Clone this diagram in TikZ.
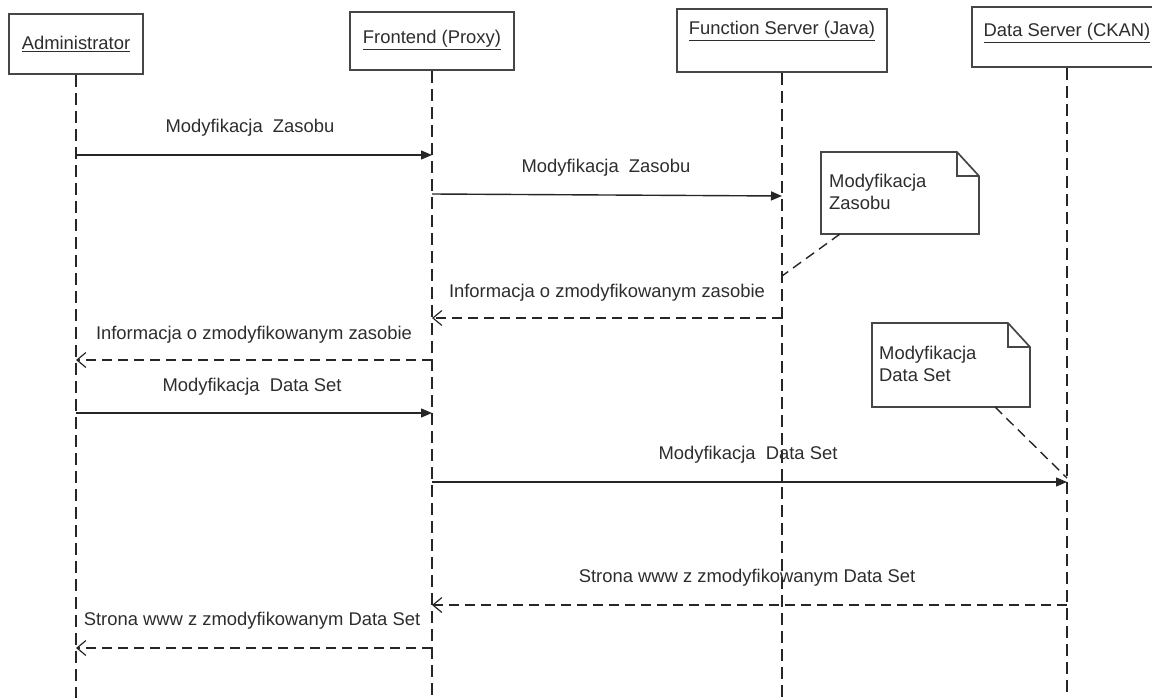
\documentclass[tikz,border=0pt]{standalone}
\usepackage{fontspec}
\setmainfont{Liberation Sans}
\usetikzlibrary{arrows.meta,calc}
\definecolor{ink}{RGB}{45,45,45}
\definecolor{frame}{RGB}{70,70,70}
\newcommand{\labelsize}{\fontsize{18.4}{22}\selectfont}
\tikzset{
  hdr/.style={draw=frame, line width=1.7pt, fill=white, inner sep=0pt},
  hdrtext/.style={font=\labelsize, text=ink, inner sep=0pt},
  lifeline/.style={draw=black!85, line width=1.4pt, dash pattern=on 12pt off 6pt},
  call/.style={draw=black!85, line width=1.4pt, -{Triangle[length=11pt,width=9pt]}},
  reply/.style={draw=black!85, line width=1.4pt, dash pattern=on 10pt off 6pt,
    -{Straight Barb[length=9pt,width=15pt,line width=1.2pt]}},
  msg/.style={font=\labelsize, text=ink, inner sep=0pt},
  notetext/.style={font=\fontsize{18.4}{22.5}\selectfont, text=ink, align=left, inner sep=0pt, anchor=west},
  notebox/.style={draw=frame, line width=1.7pt, fill=white},
  notelink/.style={draw=black!85, line width=1.4pt, dash pattern=on 10pt off 6pt},
}
\begin{document}
\begin{tikzpicture}[x=1pt,y=-1pt]
\useasboundingbox (0,0) rectangle (1152,698);

% participant boxes
\node[hdr, minimum width=134pt, minimum height=60pt] (A) at (76,44) {};
\node[hdrtext] at (76,44) {\underline{Administrator}};
\node[hdr, minimum width=164pt, minimum height=58pt] (F) at (432,41) {};
\node[hdrtext] at (432,40) {\underline{Frontend (Proxy)}};
\node[hdr, minimum width=210pt, minimum height=63pt] (J) at (782,40.5) {};
\node[hdrtext] at (782,31) {\underline{Function Server (Java)}};
\node[hdr, minimum width=190pt, minimum height=60pt] (D) at (1067,37) {};
\node[hdrtext] at (1067,33) {\underline{Data Server (CKAN)}};

% lifeline ends
\coordinate (Aend) at (A.south |- 0,698);
\coordinate (Fend) at (F.south |- 0,698);
\coordinate (Jend) at (J.south |- 0,698);
\coordinate (Dend) at (D.south |- 0,698);
\draw[lifeline] (A.south) -- (Aend);
\draw[lifeline] (F.south) -- (Fend);
\draw[lifeline] (J.south) -- (Jend);
\draw[lifeline] (D.south) -- (Dend);

% message anchor points on the lifelines
\coordinate (a1) at (A.south |- 0,155);  \coordinate (f1) at (F.south |- 0,155);
\coordinate (f2) at (F.south |- 0,194);  \coordinate (j2) at (J.south |- 0,196);
\coordinate (j3) at (J.south |- 0,318);  \coordinate (f3) at (F.south |- 0,318);
\coordinate (f4) at (F.south |- 0,360);  \coordinate (a4) at (A.south |- 0,360);
\coordinate (a5) at (A.south |- 0,413);  \coordinate (f5) at (F.south |- 0,413);
\coordinate (f6) at (F.south |- 0,482);  \coordinate (d6) at (D.south |- 0,482);
\coordinate (d7) at (D.south |- 0,605);  \coordinate (f7) at (F.south |- 0,605);
\coordinate (f8) at (F.south |- 0,648);  \coordinate (a8) at (A.south |- 0,648);

% messages
\draw[call] (a1) -- (f1);
\node[msg] (l1) at (250,128) {Modyfikacja\ \ Zasobu};
\draw[call] (f2) -- (j2);
\node[msg] (l2) at (606,168) {Modyfikacja\ \ Zasobu};
\draw[reply] (j3) -- (f3);
\node[msg] (l3) at (607,293) {Informacja o zmodyfikowanym zasobie};
\draw[reply] (f4) -- (a4);
\node[msg] (l4) at (254,335) {Informacja o zmodyfikowanym zasobie};
\draw[call] (a5) -- (f5);
\node[msg] (l5) at (252,387) {Modyfikacja\ \ Data Set};
\draw[call] (f6) -- (d6);
\node[msg] (l6) at (748,455) {Modyfikacja\ \ Data Set};
\draw[reply] (d7) -- (f7);
\node[msg] (l7) at (747,578) {Strona www z zmodyfikowanym Data Set};
\draw[reply] (f8) -- (a8);
\node[msg] (l8) at (252,621) {Strona www z zmodyfikowanym Data Set};

% note on the function server
\coordinate (n1a) at (821,152); \coordinate (n1b) at (979,234);
\draw[notebox] (n1a) -- (957,152) -- (979,176) -- (n1b) -- (821,234) -- cycle;
\draw[draw=frame, line width=1.7pt] (957,152) -- (957,176) -- (979,176);
\node[notetext] (n1) at (829,192) {Modyfikacja\\Zasobu};
\coordinate (n1tail) at (840,234);
\coordinate (j9) at (J.south |- 0,276);
\draw[notelink] (n1tail) -- (j9);

% note on the data server
\coordinate (n2a) at (872,323); \coordinate (n2b) at (1030,407);
\draw[notebox] (n2a) -- (1008,323) -- (1030,347) -- (n2b) -- (872,407) -- cycle;
\draw[draw=frame, line width=1.7pt] (1008,323) -- (1008,347) -- (1030,347);
\node[notetext] (n2) at (879,364) {Modyfikacja\\Data Set};
\coordinate (n2tail) at (995,407);
\coordinate (d9) at (D.south |- 0,478);
\draw[notelink] (n2tail) -- (d9);
\end{tikzpicture}
\end{document}
